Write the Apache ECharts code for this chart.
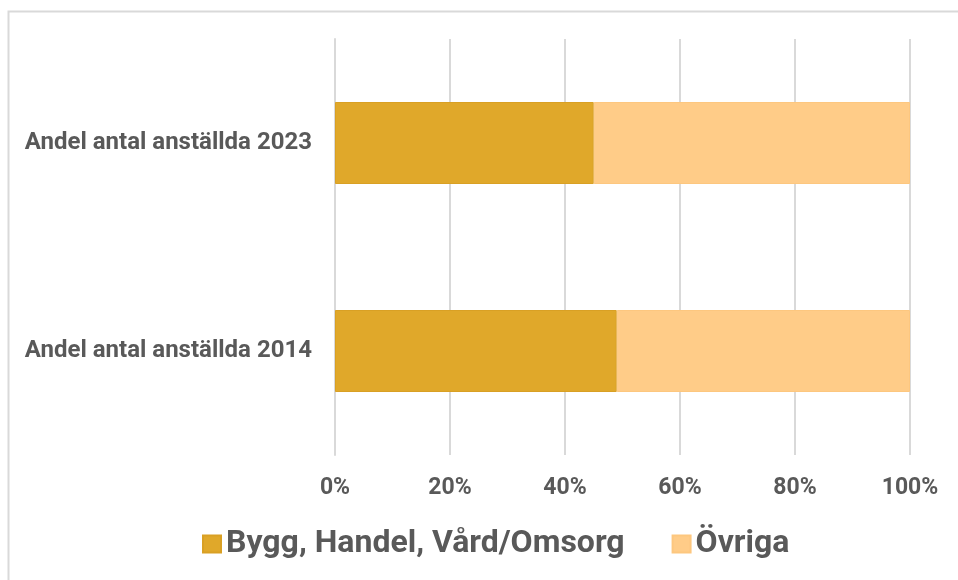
<!DOCTYPE html>
<html>
<head>
<meta charset="utf-8">
<script src="https://cdn.jsdelivr.net/npm/echarts@6/dist/echarts.min.js"></script>
<style>
  html, body { margin: 0; padding: 0; background: #fff; }
  #chart { width: 958px; height: 580px; }
</style>
</head>
<body>
<div id="chart"></div>
<script>
// kategorier nedifrån och upp
const categories = ['Andel antal anställda 2014', 'Andel antal anställda 2023']
const seriesNames = ['Bygg, Handel, Vård/Omsorg', 'Övriga']
const byggHandelVard = [49, 45]
const ovriga = [51, 55]
const tickValues = [0, 20, 40, 60, 80, 100]

const textColor = '#595959'
const gridColor = '#d9d9d9'

const chart = echarts.init(document.getElementById('chart'))

const option = {
  backgroundColor: '#fff',
  animation: false,
  graphic: [
    {
      type: 'rect',
      shape: { x: 8.5, y: 11.5, width: 960, height: 580 },
      style: { fill: 'none', stroke: gridColor, lineWidth: 2 },
      silent: true,
    },
  ],
  grid: {
    left: 335,
    right: 48,
    top: 39,
    bottom: 125,
  },
  legend: {
    left: 197,
    top: 523,
    itemWidth: 18,
    itemHeight: 17,
    itemGap: 47,
    icon: 'rect',
    textStyle: {
      color: textColor,
      fontFamily: 'Roboto',
      fontWeight: 'bold',
      fontSize: 32,
      padding: [0, 0, 0, 0],
    },
    data: seriesNames,
  },
  xAxis: {
    type: 'value',
    min: 0,
    max: 100,
    interval: 20,
    axisLine: { show: false },
    axisTick: { show: false },
    splitLine: { show: true, lineStyle: { color: gridColor, width: 2 } },
    axisLabel: {
      margin: 22,
      color: textColor,
      fontFamily: 'Roboto',
      fontWeight: 'bold',
      fontSize: 23,
      formatter: v => (tickValues.includes(v) ? v + '%' : ''),
    },
  },
  yAxis: {
    type: 'category',
    data: categories,
    axisLine: { show: true, lineStyle: { color: gridColor, width: 2 } },
    axisTick: { show: false },
    axisLabel: {
      margin: 23,
      color: textColor,
      fontFamily: 'Roboto',
      fontWeight: 'bold',
      fontSize: 24,
    },
  },
  series: [
    {
      name: seriesNames[0],
      type: 'bar',
      stack: 'andel',
      barWidth: 82,
      data: byggHandelVard,
      itemStyle: { color: '#e0a82a', borderColor: '#d9a024', borderWidth: 1 },
    },
    {
      name: seriesNames[1],
      type: 'bar',
      stack: 'andel',
      barWidth: 82,
      data: ovriga,
      itemStyle: { color: '#ffcc88', borderColor: '#fdc77f', borderWidth: 1 },
    },
  ],
}

chart.setOption(option)
</script>
</body>
</html>
